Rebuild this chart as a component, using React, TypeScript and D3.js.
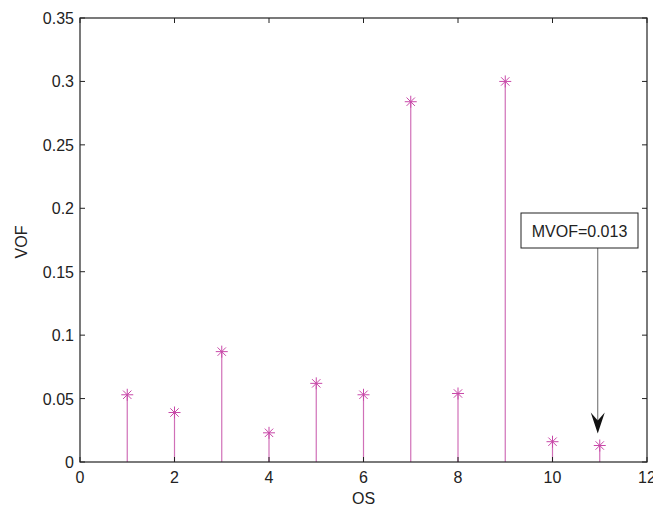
import React from "react";
import * as d3 from "d3";

const categories = [1, 2, 3, 4, 5, 6, 7, 8, 9, 10, 11];
const vofValues = [0.053, 0.039, 0.087, 0.023, 0.062, 0.053, 0.284, 0.054, 0.300, 0.016, 0.013];
const xTicks = [0, 2, 4, 6, 8, 10, 12];
const yTicks = [0, 0.05, 0.1, 0.15, 0.2, 0.25, 0.3, 0.35];
const yTickLabels = ["0", "0.05", "0.1", "0.15", "0.2", "0.25", "0.3", "0.35"];
const annotationText = "MVOF=0.013";
const annotationIndex = 10;

const W = 653;
const H = 509;
const L = 80, R = 647, T = 18, B = 462;

export default function App() {
  const x = d3.scaleLinear().domain([0, 12]).range([L, R]);
  const y = d3.scaleLinear().domain([0, 0.35]).range([B, T]);
  const color = "#c848a8";
  const stemColor = "#d070b8";
  const font = "'Liberation Sans', Arial, Helvetica, sans-serif";
  const fs = 16;
  const tick = 5;

  const ax = x(categories[annotationIndex]) - 2;
  const tipY = y(vofValues[annotationIndex]) - 12;
  const boxL = 521, boxR = 638, boxT = 213, boxB = 248;

  const star = (cx: number, cy: number, key: number) => {
    const s = 6;
    const d = 4.2;
    return (
      <g key={"s" + key} stroke={color} strokeWidth={1}>
        <line x1={cx - s} y1={cy} x2={cx + s} y2={cy} />
        <line x1={cx} y1={cy - s} x2={cx} y2={cy + s} />
        <line x1={cx - d} y1={cy - d} x2={cx + d} y2={cy + d} />
        <line x1={cx - d} y1={cy + d} x2={cx + d} y2={cy - d} />
      </g>
    );
  };

  return (
    <svg width={W} height={H} style={{ position: "absolute", left: 0, top: 0, background: "#fff" }}>
      <rect x={0} y={0} width={W} height={H} fill="#fff" />
      {categories.map((c, i) => (
        <line key={"l" + i} x1={x(c)} x2={x(c)} y1={B} y2={y(vofValues[i])} stroke={stemColor} strokeWidth={1.2} />
      ))}
      {categories.map((c, i) => star(x(c), y(vofValues[i]), i))}
      <rect x={L} y={T} width={R - L} height={B - T} fill="none" stroke="#222" strokeWidth={1.2} />
      {xTicks.map((t, i) => (
        <g key={"xt" + i}>
          <line x1={x(t)} x2={x(t)} y1={B} y2={B - tick} stroke="#222" />
          <line x1={x(t)} x2={x(t)} y1={T} y2={T + tick} stroke="#222" />
          <text x={x(t)} y={483} textAnchor="middle" fontFamily={font} fontSize={fs} fill="#222">{t}</text>
        </g>
      ))}
      {yTicks.map((t, i) => (
        <g key={"yt" + i}>
          <line x1={L} x2={L + tick} y1={y(t)} y2={y(t)} stroke="#222" />
          <line x1={R} x2={R - tick} y1={y(t)} y2={y(t)} stroke="#222" />
          <text x={L - 6} y={y(t) + 6} textAnchor="end" fontFamily={font} fontSize={fs} fill="#222">{yTickLabels[i]}</text>
        </g>
      ))}
      <text x={(L + R) / 2} y={504} textAnchor="middle" fontFamily={font} fontSize={fs} fill="#222">OS</text>
      <text transform={`translate(27, 242) rotate(-90)`} textAnchor="middle" fontFamily={font} fontSize={fs} fill="#222">VOF</text>
      <line x1={ax} x2={ax} y1={boxB} y2={tipY - 10} stroke="#666" strokeWidth={1} />
      <path d={`M${ax},${tipY} L${ax - 7},${tipY - 21} L${ax},${tipY - 13} L${ax + 7},${tipY - 21} Z`} fill="#111" />
      <rect x={boxL} y={boxT} width={boxR - boxL} height={boxB - boxT} fill="#fff" stroke="#222" strokeWidth={1} />
      <text x={(boxL + boxR) / 2} y={(boxT + boxB) / 2 + 6} textAnchor="middle" fontFamily={font} fontSize={fs} fill="#222">{annotationText}</text>
    </svg>
  );
}
